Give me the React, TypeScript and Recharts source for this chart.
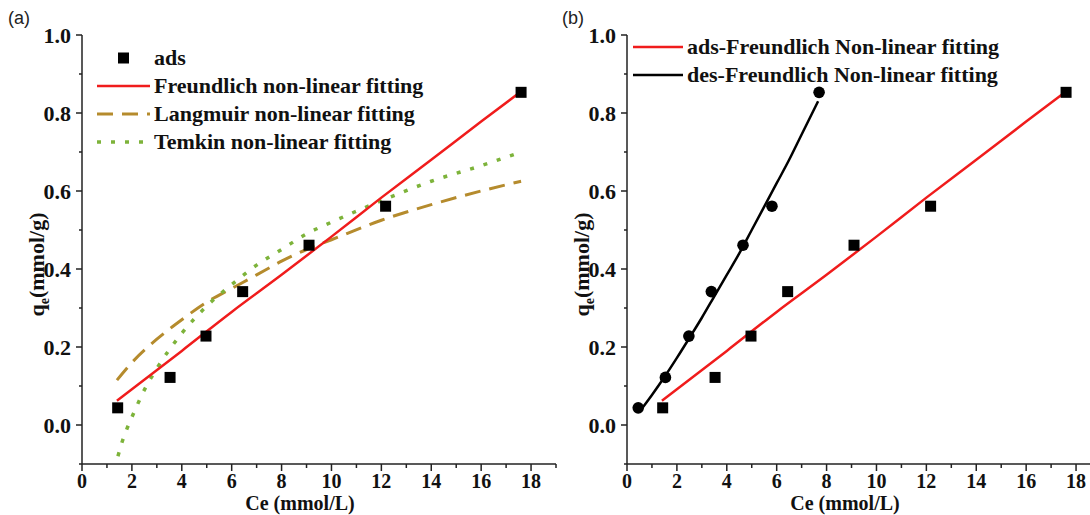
import React from 'react'
import { ComposedChart, Line, Scatter, XAxis, YAxis, Legend } from 'recharts'

// measured isotherm points (Ce in mmol/L, qe in mmol/g)
const adsCe = [1.43, 3.53, 4.97, 6.44, 9.1, 12.17, 17.6]
const adsQe = [0.044, 0.122, 0.228, 0.342, 0.461, 0.561, 0.853]
const desCe = [0.45, 1.54, 2.48, 3.38, 4.65, 5.81, 7.7]
const desQe = [0.044, 0.122, 0.228, 0.342, 0.461, 0.561, 0.853]

// fitted curves
const freundlichCe = [1.4, 4, 6, 8, 10, 12, 14, 16, 17.6]
const freundlichQe = [0.062, 0.19, 0.29, 0.385, 0.483, 0.583, 0.68, 0.778, 0.855]
const langmuirCe = [1.4, 2, 3, 4, 5, 6, 7, 8, 9, 10, 12, 14, 16, 17.6]
const langmuirQe = [0.115, 0.16, 0.22, 0.27, 0.315, 0.35, 0.385, 0.42, 0.45, 0.475, 0.525, 0.565, 0.6, 0.625]
const temkinCe = [1.44, 1.6, 1.8, 2, 2.5, 3, 4, 5, 6, 7, 8, 9, 10, 12, 14, 16, 17.6]
const temkinQe = [-0.08, -0.045, -0.01, 0.02, 0.09, 0.145, 0.235, 0.305, 0.36, 0.41, 0.45, 0.49, 0.52, 0.575, 0.625, 0.665, 0.7]
const desFitCe = [0.5, 1, 1.5, 2, 2.5, 3, 3.5, 4, 4.5, 5, 5.5, 6, 6.5, 7, 7.66]
const desFitQe = [0.034, 0.077, 0.123, 0.172, 0.223, 0.275, 0.33, 0.385, 0.44, 0.5, 0.56, 0.62, 0.68, 0.745, 0.83]

const xTicks = [0, 1, 2, 3, 4, 5, 6, 7, 8, 9, 10, 11, 12, 13, 14, 15, 16, 17, 18, 19]
const yTicks = [-0.1, 0, 0.1, 0.2, 0.3, 0.4, 0.5, 0.6, 0.7, 0.8, 0.9, 1.0]

const zip = (xs: number[], ys: number[]) => xs.map((x, i) => ({ x, y: ys[i] }))

const serif = '"Liberation Serif", "Times New Roman", serif'
const axisColor = '#222'
const RED = '#f01c1c'
const BROWN = '#b58b2d'
const GREEN = '#7db33a'

const XTick = (props: any) => {
  const { x, y, payload } = props
  const v = payload.value
  const major = v % 2 === 0 && v <= 18
  return (
    <g>
      <line x1={x} y1={y} x2={x} y2={y + (major ? 7 : 4)} stroke={axisColor} strokeWidth={1.5} />
      {major && (
        <text x={x} y={y + 24} textAnchor="middle" fontFamily={serif} fontWeight="bold" fontSize={20} fill="#111">
          {v}
        </text>
      )}
    </g>
  )
}

const YTick = (props: any) => {
  const { x, y, payload } = props
  const tenths = Math.round(payload.value * 10)
  const major = tenths >= 0 && tenths % 2 === 0
  return (
    <g>
      <line x1={x} y1={y} x2={x - (major ? 6 : 3)} y2={y} stroke={axisColor} strokeWidth={1.5} />
      {major && (
        <text x={x - 11} y={y + 7.5} textAnchor="end" fontFamily={serif} fontWeight="bold" fontSize={22} fill="#111">
          {(tenths / 10).toFixed(1)}
        </text>
      )}
    </g>
  )
}

const YTitle = (props: any) => {
  const vb = props.viewBox
  const tx = vb.x + 44
  const ty = vb.y + vb.height / 2 + 15
  return (
    <text x={tx} y={ty} transform={`rotate(-90, ${tx}, ${ty})`} textAnchor="middle" fontFamily={serif} fontWeight="bold" fontSize={22} fill="#111">
      <tspan>q</tspan>
      <tspan dy={5} fontSize={14}>e</tspan>
      <tspan dy={-5}>(mmol/g)</tspan>
    </text>
  )
}

const XTitle = (props: any) => {
  const vb = props.viewBox
  return (
    <text x={vb.x + 218} y={vb.y + 46} textAnchor="middle" fontFamily={serif} fontWeight="bold" fontSize={20} fill="#111">
      Ce (mmol/L)
    </text>
  )
}

const squareDot = (props: any) => <rect x={props.cx - 5.5} y={props.cy - 5.5} width={11} height={11} fill="#000" />
const circleDot = (props: any) => <circle cx={props.cx} cy={props.cy} r={5.8} fill="#000" />

type LegendRow = { label: string; kind: 'square' | 'line'; color?: string; dash?: string; width?: number }

const legendA: LegendRow[] = [
  { label: 'ads', kind: 'square' },
  { label: 'Freundlich non-linear fitting', kind: 'line', color: RED, width: 2.5 },
  { label: 'Langmuir non-linear fitting', kind: 'line', color: BROWN, dash: '16 9', width: 3 },
  { label: 'Temkin non-linear fitting', kind: 'line', color: GREEN, dash: '4 10', width: 3.5 },
]
const legendB: LegendRow[] = [
  { label: 'ads-Freundlich Non-linear fitting', kind: 'line', color: RED, width: 2.5 },
  { label: 'des-Freundlich Non-linear fitting', kind: 'line', color: '#000', width: 2.5 },
]

const renderLegend = (rows: LegendRow[], iconW: number) => () => (
  <div style={{ fontFamily: serif, fontWeight: 'bold', fontSize: 22, color: '#111' }}>
    {rows.map((r) => (
      <div key={r.label} style={{ display: 'flex', alignItems: 'center', height: 28, whiteSpace: 'nowrap' }}>
        <svg width={iconW + 4} height={28} style={{ flex: 'none' }}>
          {r.kind === 'square' ? (
            <rect x={iconW / 2 - 5.5} y={8.5} width={11} height={11} fill="#000" />
          ) : (
            <line x1={0} y1={14} x2={iconW} y2={14} stroke={r.color} strokeWidth={r.width} strokeDasharray={r.dash} />
          )}
        </svg>
        <span style={{ lineHeight: '28px' }}>{r.label}</span>
      </div>
    ))}
  </div>
)

const axes = () => [
  <XAxis
    key="xb"
    xAxisId="b"
    type="number"
    dataKey="x"
    domain={[0, 19]}
    ticks={xTicks}
    interval={0}
    height={51}
    tick={<XTick />}
    tickLine={false}
    tickSize={0}
    tickMargin={0}
    axisLine={{ stroke: axisColor, strokeWidth: 1.5 }}
    label={<XTitle />}
  />,
  <XAxis key="xt" xAxisId="t" orientation="top" type="number" domain={[0, 19]} height={0} tick={false} tickLine={false} axisLine={{ stroke: axisColor, strokeWidth: 1.5 }} />,
  <YAxis
    key="yl"
    yAxisId="l"
    type="number"
    dataKey="y"
    domain={[-0.1, 1.0]}
    ticks={yTicks}
    interval={0}
    width={82}
    tick={<YTick />}
    tickLine={false}
    tickSize={0}
    tickMargin={0}
    axisLine={{ stroke: axisColor, strokeWidth: 1.5 }}
    label={<YTitle />}
  />,
  <YAxis key="yr" yAxisId="r" orientation="right" type="number" domain={[-0.1, 1.0]} width={0} tick={false} tickLine={false} axisLine={{ stroke: axisColor, strokeWidth: 1.5 }} />,
]

const tagStyle: React.CSSProperties = {
  position: 'absolute',
  top: 8,
  fontFamily: '"Liberation Sans", Arial, sans-serif',
  fontSize: 18,
  color: '#222',
}

const chartMargin = { top: 35, right: 4, bottom: 0, left: 0 }

export default function App() {
  return (
    <div style={{ position: 'absolute', left: 0, top: 0, width: 1090, height: 515, overflow: 'hidden', background: '#fff' }}>
      <div style={{ position: 'absolute', left: 0, top: 0 }}>
        <ComposedChart width={560} height={515} margin={chartMargin}>
          {axes()}
          <Line xAxisId="b" yAxisId="l" data={zip(langmuirCe, langmuirQe)} dataKey="y" type="monotone" stroke={BROWN} strokeWidth={3} strokeDasharray="16 9" dot={false} isAnimationActive={false} />
          <Line xAxisId="b" yAxisId="l" data={zip(temkinCe, temkinQe)} dataKey="y" type="monotone" stroke={GREEN} strokeWidth={3.5} strokeDasharray="4 10" dot={false} isAnimationActive={false} />
          <Line xAxisId="b" yAxisId="l" data={zip(freundlichCe, freundlichQe)} dataKey="y" type="monotone" stroke={RED} strokeWidth={2.5} dot={false} isAnimationActive={false} />
          <Scatter xAxisId="b" yAxisId="l" data={zip(adsCe, adsQe)} shape={squareDot} isAnimationActive={false} />
          <Legend layout="horizontal" verticalAlign="middle" align="center" wrapperStyle={{ left: 97, top: 44, width: 'auto' }} content={renderLegend(legendA, 53)} />
        </ComposedChart>
        <div style={{ ...tagStyle, left: 8 }}>(a)</div>
      </div>
      <div style={{ position: 'absolute', left: 545, top: 0 }}>
        <ComposedChart width={560} height={515} margin={chartMargin}>
          {axes()}
          <Line xAxisId="b" yAxisId="l" data={zip(freundlichCe, freundlichQe)} dataKey="y" type="monotone" stroke={RED} strokeWidth={2.5} dot={false} isAnimationActive={false} />
          <Line xAxisId="b" yAxisId="l" data={zip(desFitCe, desFitQe)} dataKey="y" type="monotone" stroke="#000" strokeWidth={2.5} dot={false} isAnimationActive={false} />
          <Scatter xAxisId="b" yAxisId="l" data={zip(adsCe, adsQe)} shape={squareDot} isAnimationActive={false} />
          <Scatter xAxisId="b" yAxisId="l" data={zip(desCe, desQe)} shape={circleDot} isAnimationActive={false} />
          <Legend layout="horizontal" verticalAlign="middle" align="center" wrapperStyle={{ left: 88, top: 33, width: 'auto' }} content={renderLegend(legendB, 50)} />
        </ComposedChart>
        <div style={{ ...tagStyle, left: 17 }}>(b)</div>
      </div>
    </div>
  )
}
